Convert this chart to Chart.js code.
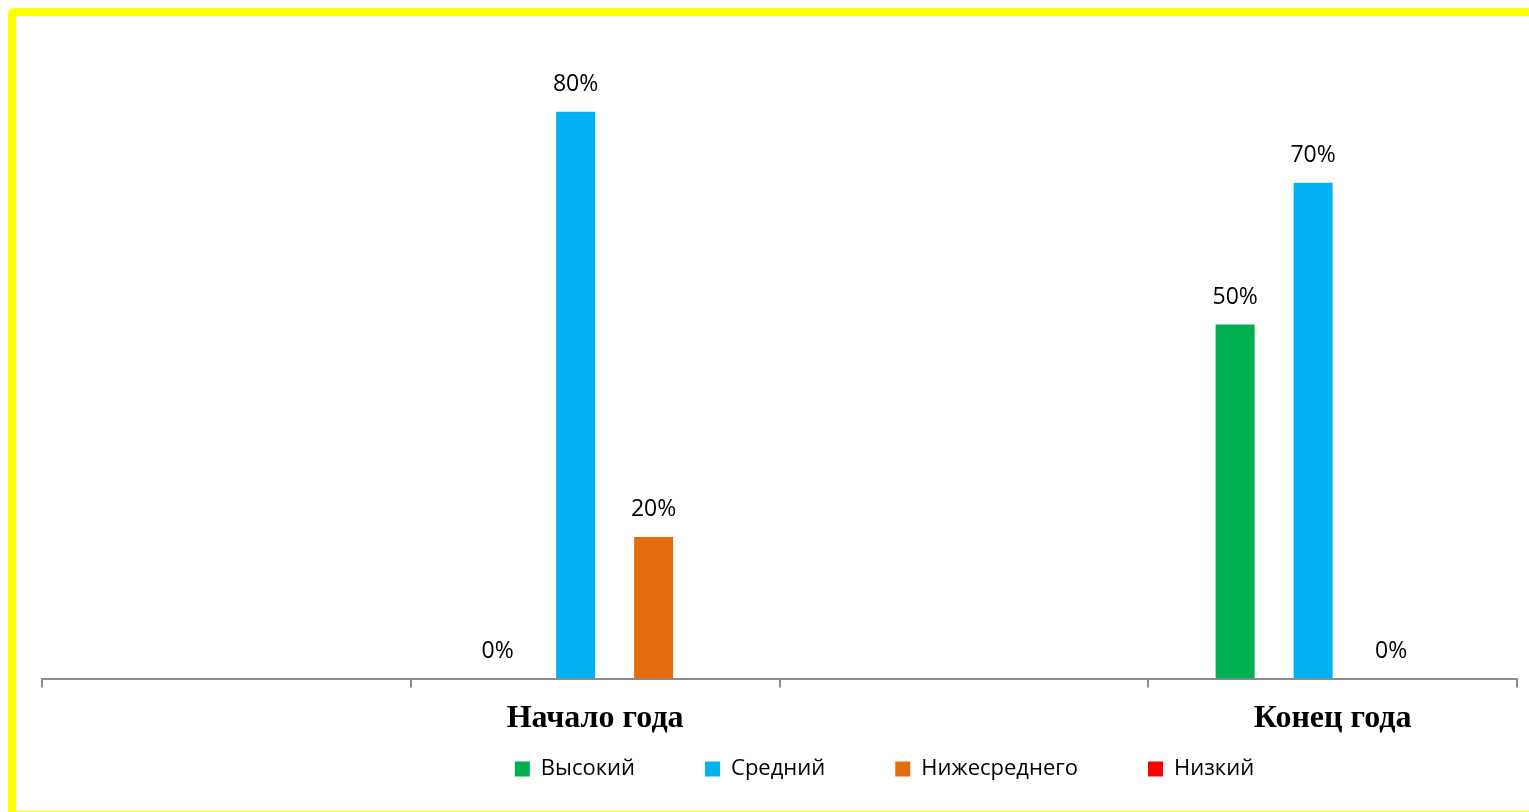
<!DOCTYPE html>
<html>
<head>
<meta charset="utf-8">
<script src="https://cdn.jsdelivr.net/npm/chart.js@4.4.1/dist/chart.umd.min.js"></script>
<style>
  html, body { margin: 0; padding: 0; background: #fff; overflow: hidden; }
  #wrap { position: relative; width: 1529px; height: 812px; }
  #frame {
    position: absolute; left: 8px; top: 8px; width: 1600px; height: 811px;
    box-sizing: border-box; border: 8px solid #ffff00; border-radius: 6px;
    pointer-events: none;
  }
</style>
</head>
<body>
<div id="wrap">
  <canvas id="chart"></canvas>
  <div id="frame"></div>
</div>
<script>
const categories = ['', 'Начало года', '', 'Конец года'];
const seriesNames = ['Высокий', 'Средний', 'Нижесреднего', 'Низкий'];
const seriesColors = ['#00B050', '#00B0F0', '#E46C0A', '#FF0000'];
const highValues = [null, 0, null, 50];
const middleValues = [null, 80, null, 70];
const belowMiddleValues = [null, 20, null, 0];
const lowValues = [null, null, null, null];
// empty series: Excel leaves one bar-wide gap in front of every bar
const gapSlot = [null, null, null, null];

const seriesValues = [highValues, middleValues, belowMiddleValues, lowValues];
const datasets = [];
seriesNames.forEach((name, i) => {
  datasets.push({ label: '', data: gapSlot });
  datasets.push({ label: name, data: seriesValues[i], backgroundColor: seriesColors[i] });
});

// percent labels above each bar
const valueLabels = {
  id: 'valueLabels',
  afterDatasetsDraw(chart) {
    const ctx = chart.ctx;
    ctx.save();
    ctx.font = '23px "Open Sans"';
    ctx.fillStyle = '#000';
    ctx.textAlign = 'center';
    ctx.textBaseline = 'middle';
    chart.data.datasets.forEach((ds, i) => {
      if (!ds.label) return;
      chart.getDatasetMeta(i).data.forEach((bar, j) => {
        const v = ds.data[j];
        if (v === null) return;
        ctx.fillText(v + '%', bar.x, bar.y - 27);
      });
    });
    ctx.restore();
  }
};

// legend sits off-centre in the original (chart was cropped on the right)
const legendShift = {
  id: 'legendShift',
  afterUpdate(chart) {
    const lg = chart.legend;
    lg.left += 105;
    lg.right += 105;
    lg.top = 688;
    lg.bottom = lg.top + 110;
  }
};

new Chart(document.getElementById('chart'), {
  type: 'bar',
  data: { labels: categories, datasets: datasets },
  options: {
    responsive: true,
    maintainAspectRatio: false,
    animation: false,
    layout: { padding: { left: 42, right: 12, top: 41, bottom: 22 } },
    datasets: { bar: { categoryPercentage: 0.846, barPercentage: 1, borderWidth: 0 } },
    scales: {
      x: {
        grid: { offset: true, drawOnChartArea: false, drawTicks: true, tickLength: 9, color: '#8c8c8c', lineWidth: 2 },
        border: { color: '#8c8c8c', width: 2 },
        ticks: { color: '#000', padding: 12, font: { family: 'Liberation Serif', size: 32, weight: 'bold' } }
      },
      y: { display: false, min: 0, max: 90 }
    },
    plugins: {
      legend: {
        position: 'bottom',
        maxHeight: 40,
        labels: {
          filter: item => item.text !== '',
          boxWidth: 15,
          boxHeight: 15,
          padding: 70,
          color: '#000',
          font: { family: 'Open Sans', size: 22 }
        }
      },
      tooltip: { enabled: false }
    }
  },
  plugins: [valueLabels, legendShift]
});
</script>
</body>
</html>
